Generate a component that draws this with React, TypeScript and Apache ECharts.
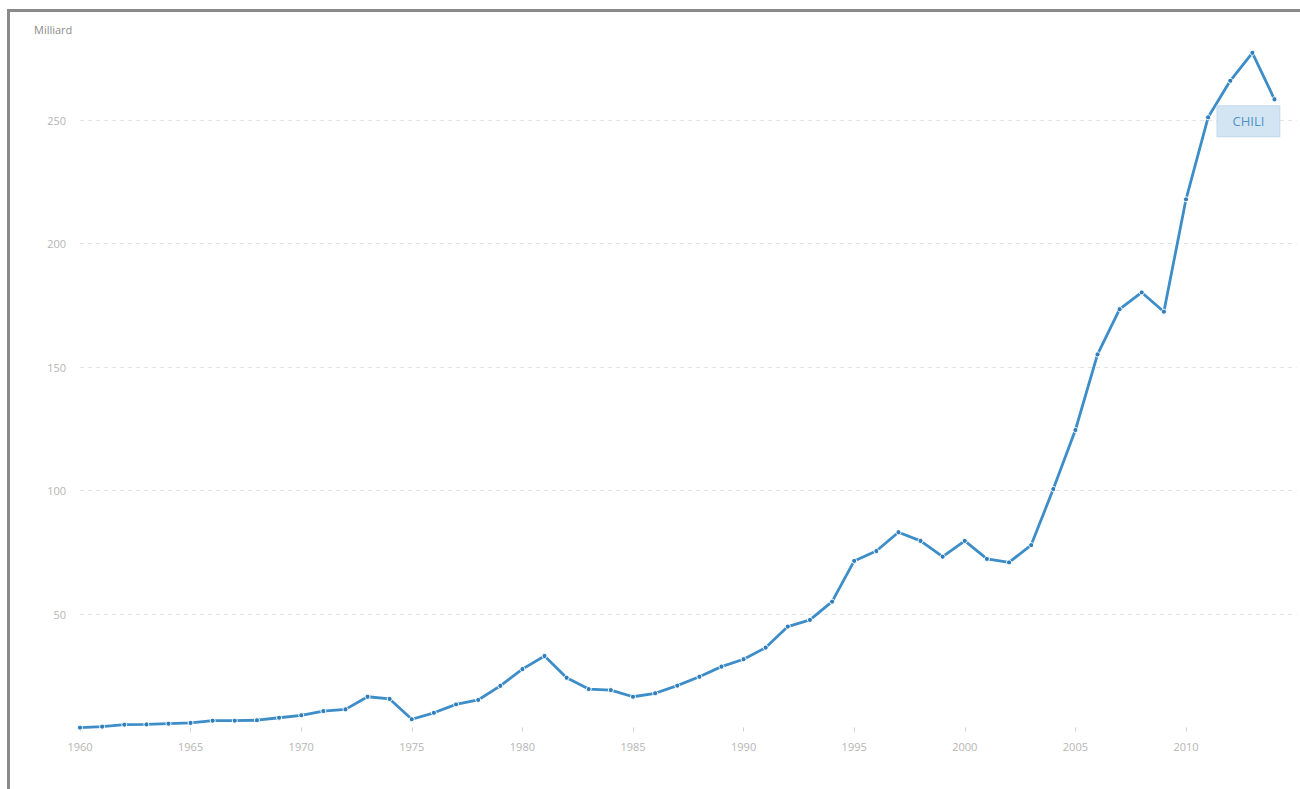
import React, { useEffect, useRef } from "react";
import * as echarts from "echarts";

const years: number[] = [
  1960, 1961, 1962, 1963, 1964, 1965, 1966, 1967, 1968, 1969,
  1970, 1971, 1972, 1973, 1974, 1975, 1976, 1977, 1978, 1979,
  1980, 1981, 1982, 1983, 1984, 1985, 1986, 1987, 1988, 1989,
  1990, 1991, 1992, 1993, 1994, 1995, 1996, 1997, 1998, 1999,
  2000, 2001, 2002, 2003, 2004, 2005, 2006, 2007, 2008, 2009,
  2010, 2011, 2012, 2013, 2014,
];

const gdpBillions: number[] = [
  4.0, 4.4, 5.2, 5.3, 5.6, 5.9, 6.8, 6.8, 7.0, 8.0,
  9.0, 10.7, 11.4, 16.5, 15.6, 7.4, 10.0, 13.4, 15.2, 20.9,
  27.7, 33.0, 24.2, 19.6, 19.2, 16.5, 17.9, 21.0, 24.6, 28.7,
  31.7, 36.4, 44.9, 47.6, 55.0, 71.5, 75.5, 83.1, 79.6, 73.2,
  79.6, 72.3, 70.9, 77.9, 100.6, 124.5, 155.1, 173.4, 180.2, 172.4,
  217.9, 251.1, 265.9, 277.2, 258.4,
];

const seriesName = "CHILI";
const unitLabel = "Milliard";

export default function App() {
  const ref = useRef<HTMLDivElement>(null);

  useEffect(() => {
    if (!ref.current) return;
    const chart = echarts.init(ref.current, null, { renderer: "svg" });
    const font = "'Open Sans', 'Noto Sans', sans-serif";
    const gridColor = "#e3e3e3";
    const transparent = "rgba(0,0,0,0)";
    chart.setOption({
      animation: false,
      backgroundColor: "transparent",
      textStyle: { fontFamily: font },
      grid: { left: 80, right: 3.4, top: 41, bottom: 51.5, containLabel: false },
      graphic: [
        {
          type: "text",
          left: 34,
          top: 24,
          style: { text: unitLabel, fill: "#8c8c8c", font: `11px ${font}` },
        },
      ],
      xAxis: {
        type: "value",
        min: 1960,
        max: 2015,
        interval: 5,
        offset: -10,
        axisLine: { show: false },
        axisTick: { show: true, length: 4, lineStyle: { color: "#cfcfcf" } },
        splitLine: { show: false },
        axisLabel: {
          color: "#b5b5b5",
          fontSize: 11,
          fontFamily: font,
          margin: 13,
          showMaxLabel: false,
          formatter: (v: number) => String(v),
        },
      },
      yAxis: {
        type: "value",
        min: 0,
        max: 282,
        interval: 50,
        axisLine: { show: false },
        axisTick: { show: false },
        axisLabel: {
          color: "#b5b5b5",
          fontSize: 11,
          fontFamily: font,
          margin: 14,
          showMinLabel: false,
          showMaxLabel: false,
        },
        splitLine: {
          show: true,
          lineStyle: {
            type: [4, 4],
            width: 1,
            color: [transparent, gridColor, gridColor, gridColor, gridColor, gridColor, transparent],
          },
        },
      },
      series: [
        {
          name: seriesName,
          type: "line",
          data: years.map((y, i) => [y, gdpBillions[i]]),
          symbol: "circle",
          symbolSize: 5,
          showSymbol: true,
          lineStyle: { color: "#3d8dc8", width: 2.8 },
          itemStyle: { color: "#2f7dba", borderColor: "#ffffff", borderWidth: 1 },
          endLabel: {
            show: true,
            formatter: () => seriesName,
            position: "right",
            distance: 0,
            offset: [-57, 22],
            color: "#4f92c8",
            fontSize: 13,
            fontFamily: font,
            backgroundColor: "#d3e5f3",
            borderColor: "#c2d9ec",
            borderWidth: 1,
            padding: [7, 15],
            lineHeight: 16,
          },
        },
      ],
    });
    return () => chart.dispose();
  }, []);

  return (
    <div
      style={{
        position: "fixed",
        left: 0,
        top: 0,
        width: 1300,
        height: 789,
        background: "#ffffff",
      }}
    >
      <div
        style={{
          position: "absolute",
          left: 7,
          top: 9,
          width: 1300,
          height: 800,
          borderLeft: "3px solid #8a8a8a",
          borderTop: "3px solid #8a8a8a",
          boxSizing: "border-box",
        }}
      />
      <div ref={ref} style={{ position: "absolute", left: 0, top: 0, width: 1300, height: 789 }} />
    </div>
  );
}
